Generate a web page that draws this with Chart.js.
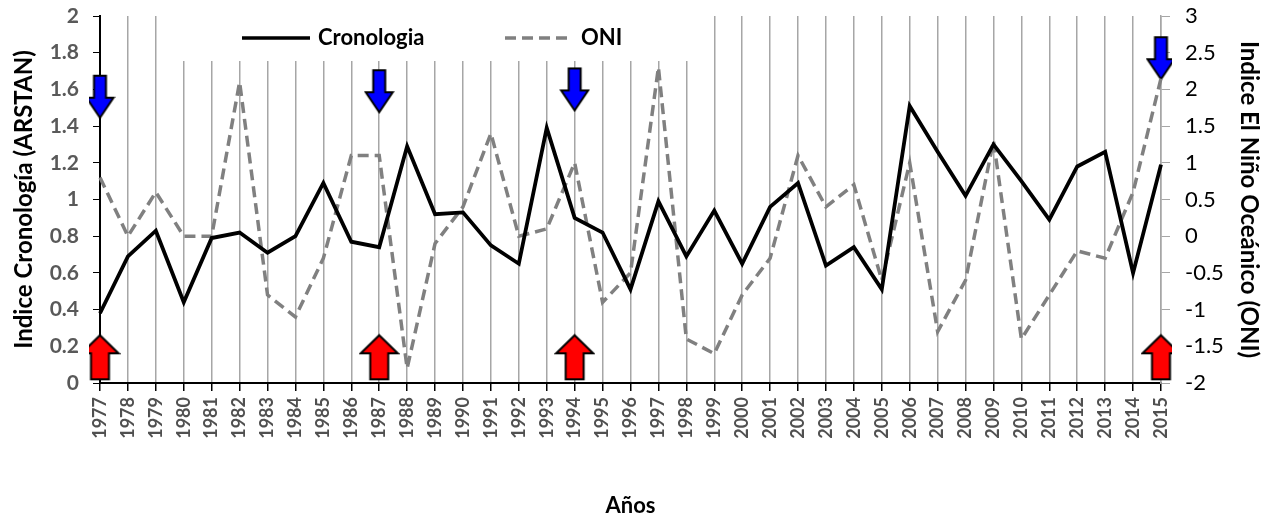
<!DOCTYPE html>
<html>
<head>
<meta charset="utf-8">
<script src="https://cdn.jsdelivr.net/npm/chart.js"></script>
<style>
  html, body { margin: 0; padding: 0; background: #fff; }
  #wrap { width: 1269px; height: 519px; }
</style>
</head>
<body>
<div id="wrap"><canvas id="myChart" width="1269" height="519"></canvas></div>
<script>
// Years on the x axis
const years = [];
for (let y = 1977; y <= 2015; y++) years.push(String(y));

// Tree-ring chronology (ARSTAN), left axis
const cronologia = [0.38, 0.69, 0.83, 0.44, 0.79, 0.82, 0.71, 0.80, 1.09, 0.77,
                    0.74, 1.29, 0.92, 0.93, 0.75, 0.65, 1.39, 0.90, 0.82, 0.51,
                    0.99, 0.69, 0.94, 0.65, 0.96, 1.09, 0.64, 0.74, 0.51, 1.51,
                    1.26, 1.02, 1.30, 1.10, 0.89, 1.18, 1.26, 0.60, 1.19];

// Oceanic Niño Index, right axis
const oni = [0.8, 0.0, 0.6, 0.0, 0.0, 2.1, -0.8, -1.1, -0.3, 1.1,
             1.1, -1.8, -0.1, 0.4, 1.4, 0.0, 0.1, 1.0, -0.9, -0.5,
             2.3, -1.4, -1.6, -0.8, -0.3, 1.1, 0.4, 0.7, -0.6, 1.0,
             -1.3, -0.6, 1.3, -1.4, -0.8, -0.2, -0.3, 0.6, 2.15];

// Marker arrows (year, left-axis position of arrow centre)
const elNinoYears = ['1977', '1987', '1994', '2015'];
const elNinoArrowY = [1.56, 1.59, 1.60, 1.77];
const laNinaYears = ['1977', '1987', '1994', '2015'];
const laNinaArrowY = [0.14, 0.14, 0.14, 0.14];

const leftTicks = { min: 0, max: 2, step: 0.2 };
const rightTicks = { min: -2, max: 3, step: 0.5 };

// build a small arrow image to use as point style
function makeArrow(fill, w, h, shaftW, headH, down) {
    const pad = 2;
    const c = document.createElement('canvas');
    c.width = w + pad * 2;
    c.height = h + pad * 2;
    const g = c.getContext('2d');
    g.translate(pad, pad);
    if (down) { g.translate(0, h); g.scale(1, -1); }
    const cx = w / 2;
    g.beginPath();
    g.moveTo(cx, 0);
    g.lineTo(w, headH);
    g.lineTo(cx + shaftW / 2, headH);
    g.lineTo(cx + shaftW / 2, h);
    g.lineTo(cx - shaftW / 2, h);
    g.lineTo(cx - shaftW / 2, headH);
    g.lineTo(0, headH);
    g.closePath();
    g.fillStyle = fill;
    g.fill();
    g.lineWidth = 2;
    g.lineJoin = 'miter';
    g.strokeStyle = '#000';
    g.stroke();
    return c;
}
const blueArrow = makeArrow('#0000FF', 27, 42, 12, 20, true);
const redArrow = makeArrow('#FF0000', 37, 44, 18, 18, false);

// white box behind the legend + the legend itself
const legendBox = {
    id: 'legendBox',
    beforeDatasetsDraw(chart) {
        const ctx = chart.ctx;
        const x = chart.scales.x;
        const area = chart.chartArea;
        const left = (x.getPixelForValue(2) + x.getPixelForValue(3)) / 2;
        const right = (x.getPixelForValue(21) + x.getPixelForValue(22)) / 2;
        ctx.save();
        ctx.fillStyle = '#fff';
        ctx.fillRect(left, area.top - 1, right - left, 62 - area.top);

        const items = [
            { ds: chart.data.datasets[0], x0: 242 },
            { ds: chart.data.datasets[1], x0: 505 }
        ];
        ctx.font = 'bold 22px Lato';
        ctx.textBaseline = 'middle';
        items.forEach(it => {
            const y = 38;
            ctx.beginPath();
            ctx.setLineDash(it.ds.borderDash || []);
            ctx.strokeStyle = it.ds.borderColor;
            ctx.lineWidth = 3.5;
            ctx.moveTo(it.x0, y);
            ctx.lineTo(it.x0 + 68, y);
            ctx.stroke();
            ctx.setLineDash([]);
            ctx.fillStyle = '#000';
            ctx.fillText(it.ds.label, it.x0 + 76, y);
        });
        ctx.restore();
    }
};

const fmt = v => String(Number(v.toFixed(1)));

const ctx = document.getElementById('myChart').getContext('2d');
new Chart(ctx, {
    type: 'line',
    data: {
        labels: years,
        datasets: [
            {
                label: 'Cronologia',
                data: cronologia,
                yAxisID: 'y',
                borderColor: '#000000',
                borderWidth: 3.8,
                pointRadius: 0,
                fill: false,
                tension: 0
            },
            {
                label: 'ONI',
                data: oni,
                yAxisID: 'y1',
                borderColor: '#808080',
                borderWidth: 3.5,
                borderDash: [11, 6],
                pointRadius: 0,
                fill: false,
                tension: 0
            },
            {
                label: 'El Niño',
                data: elNinoYears.map((yr, i) => ({ x: yr, y: elNinoArrowY[i] })),
                yAxisID: 'y',
                showLine: false,
                pointStyle: blueArrow,
                pointRadius: 10
            },
            {
                label: 'La Niña',
                data: laNinaYears.map((yr, i) => ({ x: yr, y: laNinaArrowY[i] })),
                yAxisID: 'y',
                showLine: false,
                pointStyle: redArrow,
                pointRadius: 10
            }
        ]
    },
    options: {
        responsive: false,
        animation: false,
        layout: { padding: { top: 0, left: 0, right: 0, bottom: 0 } },
        plugins: {
            legend: { display: false },
            tooltip: { enabled: false }
        },
        scales: {
            x: {
                type: 'category',
                offset: false,
                afterFit: s => { s.height = 136; },
                grid: {
                    color: '#A6A6A6',
                    lineWidth: 1.5,
                    tickColor: '#000',
                    tickLength: 8
                },
                border: { color: '#000', width: 2 },
                ticks: {
                    autoSkip: false,
                    minRotation: 90,
                    maxRotation: 90,
                    color: '#505050',
                    font: { family: 'Lato', size: 18, weight: 'bold' },
                    padding: 6
                },
                title: {
                    display: true,
                    text: 'Años',
                    color: '#000',
                    font: { family: 'Lato', size: 22, weight: 'bold' },
                    padding: { top: 0, bottom: 0 }
                }
            },
            y: {
                position: 'left',
                min: leftTicks.min,
                max: leftTicks.max,
                afterFit: s => { s.width = 100; s.paddingTop = 16; s.paddingBottom = 0; },
                grid: { drawOnChartArea: false, tickColor: '#000', tickLength: 7 },
                border: { color: '#000', width: 2 },
                ticks: {
                    stepSize: leftTicks.step,
                    color: '#595959',
                    font: { family: 'Lato', size: 21, weight: 'bold' },
                    callback: fmt,
                    padding: 14
                },
                title: {
                    display: true,
                    text: 'Indice Cronología (ARSTAN)',
                    color: '#000',
                    font: { family: 'Lato', size: 24, weight: 'bold' },
                    padding: { top: 10, bottom: 0 }
                }
            },
            y1: {
                position: 'right',
                min: rightTicks.min,
                max: rightTicks.max,
                afterFit: s => { s.width = 108; s.paddingTop = 16; s.paddingBottom = 0; },
                grid: { drawOnChartArea: false, color: '#A6A6A6', tickColor: '#A6A6A6', tickLength: 9 },
                border: { color: '#A6A6A6', width: 1.5 },
                ticks: {
                    stepSize: rightTicks.step,
                    color: '#000',
                    font: { family: 'Lato', size: 22 },
                    callback: fmt,
                    padding: 15
                },
                title: {
                    display: true,
                    text: 'Indice El Niño Oceánico (ONI)',
                    color: '#000',
                    font: { family: 'Lato', size: 24, weight: 'bold' },
                    padding: { top: 6, bottom: 0 }
                }
            }
        }
    },
    plugins: [legendBox]
});
</script>
</body>
</html>
